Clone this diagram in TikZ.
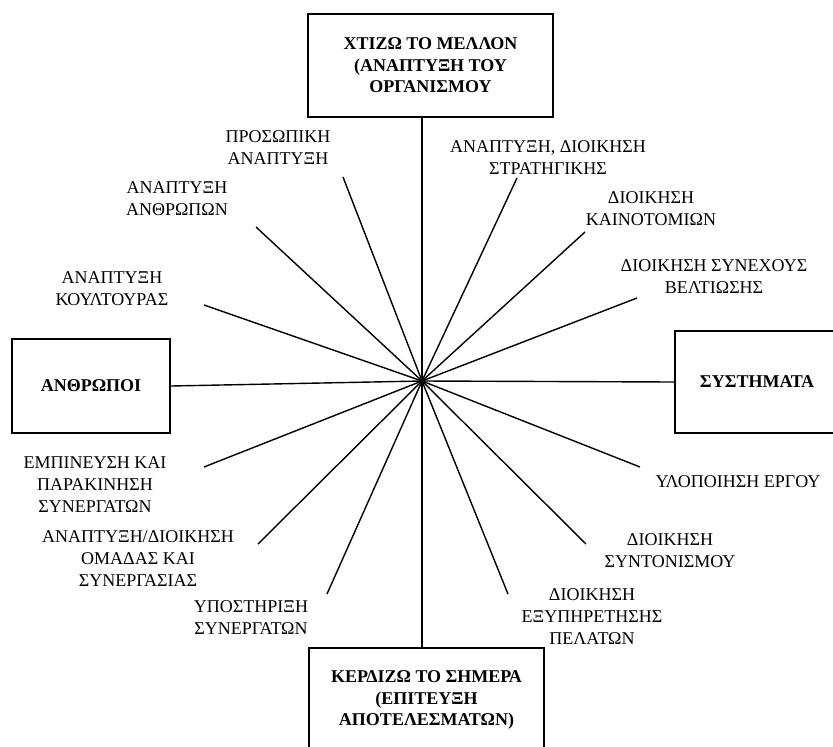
\documentclass[tikz,border=0pt]{standalone}
\usepackage{fontspec}
\setmainfont{Liberation Serif}

\begin{document}
\begin{tikzpicture}[x=1pt,y=-1pt,
    box/.style={draw, line width=2.4pt, align=center, font=\bfseries\fontsize{18}{21.5}\selectfont},
    lbl/.style={align=center, font=\fontsize{18}{22}\selectfont},
    spoke/.style={line width=1.4pt}]
    \useasboundingbox (0,0) rectangle (833,747);

    \coordinate (c) at (422,381);

    % the four boxes
    \node[box, minimum width=245pt, minimum height=103pt] (future) at (430.5,65.5) {ΧΤΙΖΩ ΤΟ ΜΕΛΛΟΝ\\(ΑΝΑΠΤΥΞΗ ΤΟΥ\\ΟΡΓΑΝΙΣΜΟΥ};
    \node[box, minimum width=235pt, minimum height=104pt] (today) at (426.5,700) {ΚΕΡΔΙΖΩ ΤΟ ΣΗΜΕΡΑ\\(ΕΠΙΤΕΥΞΗ\\ΑΠΟΤΕΛΕΣΜΑΤΩΝ)};
    \node[box, minimum width=158pt, minimum height=94pt] (people) at (91,386) {ΑΝΘΡΩΠΟΙ};
    \node[box, minimum width=164pt, minimum height=102pt] (systems) at (757,382) {ΣΥΣΤΗΜΑΤΑ};

    \draw[spoke] (c) -- (c |- future.south);
    \draw[spoke] (c) -- (c |- today.north);
    \draw[spoke] (c) -- (people.east);
    \draw[spoke] (c) -- (systems.west);

    % labels round the star
    \node[lbl] (personal) at (278,147.5) {ΠΡΟΣΩΠΙΚΗ\\ΑΝΑΠΤΥΞΗ};
    \node[lbl] (humans) at (177,199) {ΑΝΑΠΤΥΞΗ\\ΑΝΘΡΩΠΩΝ};
    \node[lbl] (culture) at (112,289) {ΑΝΑΠΤΥΞΗ\\ΚΟΥΛΤΟΥΡΑΣ};
    \node[lbl] (inspire) at (95,485) {ΕΜΠΙΝΕΥΣΗ ΚΑΙ\\ΠΑΡΑΚΙΝΗΣΗ\\ΣΥΝΕΡΓΑΤΩΝ};
    \node[lbl] (team) at (138,559) {ΑΝΑΠΤΥΞΗ/ΔΙΟΙΚΗΣΗ\\ΟΜΑΔΑΣ ΚΑΙ\\ΣΥΝΕΡΓΑΣΙΑΣ};
    \node[lbl] (support) at (251,618) {ΥΠΟΣΤΗΡΙΞΗ\\ΣΥΝΕΡΓΑΤΩΝ};
    \node[lbl] (service) at (592,617) {ΔΙΟΙΚΗΣΗ\\ΕΞΥΠΗΡΕΤΗΣΗΣ\\ΠΕΛΑΤΩΝ};
    \node[lbl] (coord) at (670,551) {ΔΙΟΙΚΗΣΗ\\ΣΥΝΤΟΝΙΣΜΟΥ};
    \node[lbl] (project) at (738,482) {ΥΛΟΠΟΙΗΣΗ ΕΡΓΟΥ};
    \node[lbl] (improve) at (714,276.5) {ΔΙΟΙΚΗΣΗ ΣΥΝΕΧΟΥΣ\\ΒΕΛΤΙΩΣΗΣ};
    \node[lbl] (innov) at (651,209) {ΔΙΟΙΚΗΣΗ\\ΚΑΙΝΟΤΟΜΙΩΝ};
    \node[lbl] (strategy) at (548,158) {ΑΝΑΠΤΥΞΗ, ΔΙΟΙΚΗΣΗ\\ΣΤΡΑΤΗΓΙΚΗΣ};

    % free ends of the spokes
    \coordinate (e1) at (343,177);
    \coordinate (e2) at (256,227);
    \coordinate (e3) at (204,305);
    \coordinate (e4) at (204,467);
    \coordinate (e5) at (258,544);
    \coordinate (e6) at (327,594);
    \coordinate (e7) at (508,594);
    \coordinate (e8) at (586,544);
    \coordinate (e9) at (640,467);
    \coordinate (e10) at (637,298);
    \coordinate (e11) at (585,232);
    \coordinate (e12) at (517,178);

    \foreach \i in {1,...,12}
        \draw[spoke] (c) -- (e\i);
\end{tikzpicture}
\end{document}
